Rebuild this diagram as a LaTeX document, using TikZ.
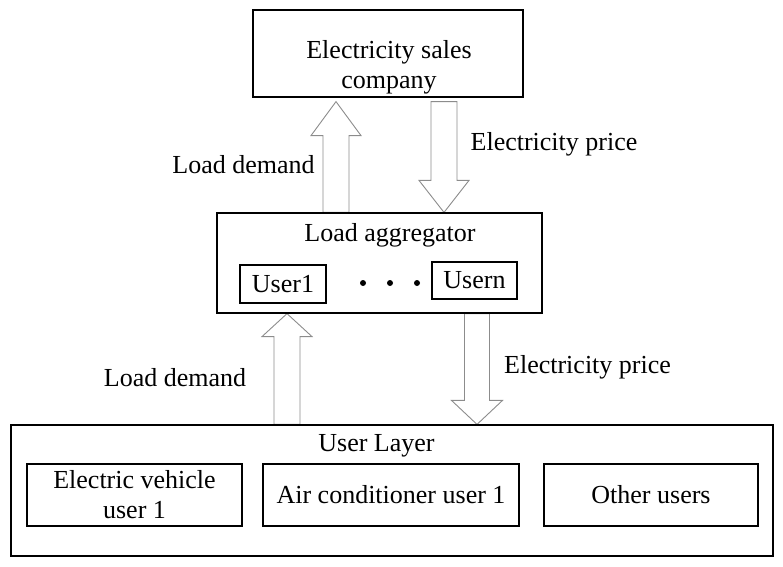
\documentclass[tikz,border=0pt]{standalone}
\usepackage{fontspec}
\setmainfont{Liberation Serif}
\usetikzlibrary{calc}
\tikzset{
  box/.style={draw=black, line width=1.2pt, rectangle, inner sep=0pt, align=center},
  lbl/.style={inner sep=0pt, anchor=base},
  dotmark/.style={circle, fill=black, inner sep=0pt, minimum size=6pt},
  hollow/.style={draw={rgb,255:red,140;green,140;blue,140}, line width=0.9pt, fill=white, line join=miter},
}
% up arrow: #1 axis coordinate, #2 base anchor, #3 tip anchor, #4 shaft half, #5 head half, #6 head length
\newcommand\hollowup[6]{%
  \draw[hollow] let \p1=(#1 |- #2), \p2=(#1 |- #3) in
    (\x1-#4,\y1) -- (\x1-#4,\y2-#6) -- (\x1-#5,\y2-#6) -- (\x2,\y2)
    -- (\x1+#5,\y2-#6) -- (\x1+#4,\y2-#6) -- (\x1+#4,\y1) -- cycle;}
\newcommand\hollowdown[6]{%
  \draw[hollow] let \p1=(#1 |- #2), \p2=(#1 |- #3) in
    (\x1-#4,\y1) -- (\x1-#4,\y2+#6) -- (\x1-#5,\y2+#6) -- (\x2,\y2)
    -- (\x1+#5,\y2+#6) -- (\x1+#4,\y2+#6) -- (\x1+#4,\y1) -- cycle;}
\begin{document}
\begin{tikzpicture}[x=1pt, y=-1pt, font=\fontsize{26}{30}\selectfont]
\useasboundingbox (0,0) rectangle (783,566);

% boxes
\node[box, minimum width=270pt, minimum height=87pt] (sales) at (388,53.5) {};
\node[lbl] (saleslbl1) at (389,58) {Electricity sales};
\node[lbl] (saleslbl2) at (389,88) {company};
\node[box, minimum width=325pt, minimum height=100pt] (agg) at (379.5,263) {};
\node[lbl] (agglbl) at (390,241) {Load aggregator};
\node[box, minimum width=86pt, minimum height=38pt] (u1) at (283,284) {User1};
\node[box, minimum width=85pt, minimum height=37pt] (un) at (474.5,280.5) {Usern};
\node[dotmark] (d1) at (363,283) {};
\node[dotmark] (d2) at (390,283) {};
\node[dotmark] (d3) at (417,283) {};

\node[box, minimum width=762pt, minimum height=131pt] (layer) at (392,490.5) {};
\node[lbl] (layerlbl) at (376.5,451) {User Layer};
\node[box, minimum width=215pt, minimum height=62pt] (ev) at (134.5,495) {Electric vehicle\\user 1};
\node[box, minimum width=256pt, minimum height=62pt] (ac) at (391,495) {Air conditioner user 1};
\node[box, minimum width=214pt, minimum height=62pt] (ot) at (651,495) {Other users};

% arrow axes
\coordinate (ax1) at (336,0);
\coordinate (ax2) at (444,0);
\coordinate (ax3) at (287,0);
\coordinate (ax4) at (477,0);
\coordinate (salesgap) at ([yshift=-4pt]sales.south);

\hollowup{ax1}{agg.north}{salesgap}{13pt}{25pt}{34pt}
\hollowdown{ax2}{salesgap}{agg.north}{13pt}{25pt}{32pt}
\hollowup{ax3}{layer.north}{agg.south}{13pt}{25pt}{23pt}
\hollowdown{ax4}{agg.south}{layer.north}{12.5pt}{25.5pt}{24pt}

% redraw box borders on top of arrows
\draw[line width=1.2pt] (sales.south west) rectangle (sales.north east);
\draw[line width=1.2pt] (agg.south west) rectangle (agg.north east);
\draw[line width=1.2pt] (layer.south west) rectangle (layer.north east);

% labels
\node[lbl] (ld1) at (243.5,173) {Load demand};
\node[lbl] (ep1) at (554,150) {Electricity price};
\node[lbl] (ld2) at (175,386) {Load demand};
\node[lbl] (ep2) at (587.5,373) {Electricity price};
\end{tikzpicture}
\end{document}
